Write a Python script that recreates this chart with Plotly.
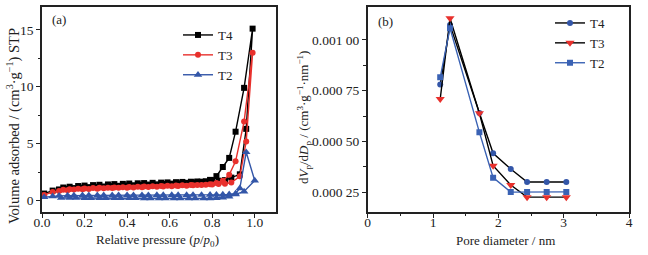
import plotly.graph_objects as go

# ---------------- data: panel (a) N2 isotherms ----------------
P_ADS = [0.01, 0.05, 0.08, 0.12, 0.15, 0.19, 0.22, 0.26, 0.29, 0.33, 0.36, 0.40, 0.43, 0.47,
         0.50, 0.54, 0.57, 0.61, 0.64, 0.68, 0.71, 0.75, 0.79, 0.82, 0.85, 0.88, 0.91, 0.95, 0.99]
P_DES = [0.96, 0.93, 0.89, 0.86, 0.83, 0.80, 0.77, 0.73, 0.70, 0.66, 0.63, 0.59, 0.56, 0.52,
         0.48, 0.45, 0.41, 0.38, 0.34, 0.31, 0.27, 0.24, 0.20, 0.17, 0.13, 0.10]

T4_ADS = [0.62, 0.88, 0.98, 1.05, 1.10, 1.14, 1.18, 1.21, 1.24, 1.27, 1.30, 1.33, 1.35, 1.38,
          1.41, 1.43, 1.46, 1.49, 1.52, 1.56, 1.60, 1.66, 1.82, 2.15, 2.95, 3.75, 6.05, 9.90, 15.10]
T4_DES = [6.30, 2.31, 2.02, 1.80, 1.75, 1.72, 1.70, 1.68, 1.66, 1.64, 1.62, 1.60, 1.58, 1.56,
          1.54, 1.52, 1.50, 1.47, 1.45, 1.42, 1.39, 1.36, 1.32, 1.28, 1.22, 1.15]

T3_ADS = [0.50, 0.75, 0.85, 0.92, 0.97, 1.00, 1.03, 1.05, 1.08, 1.10, 1.12, 1.14, 1.16, 1.18,
          1.20, 1.22, 1.24, 1.26, 1.28, 1.31, 1.34, 1.38, 1.44, 1.55, 1.75, 2.26, 3.45, 6.94, 12.98]
T3_DES = [5.20, 2.14, 1.58, 1.48, 1.45, 1.42, 1.40, 1.38, 1.36, 1.34, 1.32, 1.30, 1.28, 1.26,
          1.24, 1.22, 1.20, 1.18, 1.16, 1.14, 1.12, 1.10, 1.07, 1.04, 1.00, 0.95]

P2_ADS = [0.01, 0.05, 0.08, 0.12, 0.15, 0.19, 0.22, 0.26, 0.29, 0.33, 0.36, 0.40, 0.43, 0.47,
          0.50, 0.54, 0.57, 0.61, 0.64, 0.68, 0.71, 0.75, 0.79, 0.82, 0.85, 0.88, 0.91, 0.93, 0.96, 1.00]
T2_ADS = [0.30, 0.38, 0.42, 0.44, 0.45, 0.46, 0.46, 0.47, 0.47, 0.47, 0.48, 0.48, 0.48, 0.48,
          0.48, 0.49, 0.49, 0.49, 0.49, 0.49, 0.50, 0.50, 0.51, 0.52, 0.53, 0.55, 0.62, 1.08, 4.25, 1.76]
P2_DES = [0.95, 0.91, 0.88, 0.85, 0.82, 0.79, 0.76, 0.72, 0.69, 0.65, 0.62, 0.58, 0.55, 0.51,
          0.48, 0.44, 0.41, 0.37, 0.34, 0.30, 0.27, 0.23, 0.20, 0.16, 0.13, 0.09]
T2_DES = [0.80, 0.55, 0.36, 0.27, 0.22, 0.20, 0.19, 0.19, 0.19, 0.19, 0.19, 0.20, 0.20, 0.20,
          0.20, 0.21, 0.21, 0.21, 0.21, 0.22, 0.22, 0.22, 0.22, 0.23, 0.23, 0.23]

# ---------------- data: panel (b) pore size distribution ----------------
PORE_D = [1.11, 1.26, 1.71, 1.92, 2.19, 2.44, 2.74, 3.04]
T4_B = [0.000780, 0.001074, 0.000640, 0.000442, 0.000365, 0.000301, 0.000301, 0.000301]
T3_B = [0.000709, 0.001107, 0.000639, 0.000381, 0.000286, 0.000226, 0.000226, 0.000226]
T2_B = [0.000816, 0.001058, 0.000545, 0.000322, 0.000251, 0.000252, 0.000252, 0.000252]

B_TICKS = [0.00025, 0.00050, 0.00075, 0.00100]
B_TICKTEXT = ["0.000 25", "0.000 50", "0.000 75", "0.001 00"]

BLACK = "#000000"
RED = "#e8302c"
BLUE = "#3356a8"
BLUE2 = "#3a62b4"
FONT = "'Liberation Serif', 'Times New Roman', Times, serif"

fig = go.Figure()

def trace_a(name, xa, ya, xd, yd, color, symbol, size):
    fig.add_trace(go.Scatter(
        x=list(xa) + list(xd), y=list(ya) + list(yd), name=name, mode="lines+markers",
        line=dict(color=color, width=1.4),
        marker=dict(symbol=symbol, size=size, color=color),
        xaxis="x", yaxis="y", legend="legend"))

trace_a("T4", P_ADS, T4_ADS, P_DES, T4_DES, BLACK, "square", 6)
trace_a("T3", P_ADS, T3_ADS, P_DES, T3_DES, RED, "circle", 6)
trace_a("T2", P2_ADS, T2_ADS, P2_DES, T2_DES, BLUE, "triangle-up", 7.5)

fig.add_trace(go.Scatter(x=PORE_D, y=T4_B, name="T4", mode="lines+markers",
                         line=dict(color=BLACK, width=1.4),
                         marker=dict(symbol="circle", size=6, color=BLUE),
                         xaxis="x2", yaxis="y2", legend="legend2"))
fig.add_trace(go.Scatter(x=PORE_D, y=T3_B, name="T3", mode="lines+markers",
                         line=dict(color=BLACK, width=1.4),
                         marker=dict(symbol="triangle-down", size=8, color=RED),
                         xaxis="x2", yaxis="y2", legend="legend2"))
fig.add_trace(go.Scatter(x=PORE_D, y=T2_B, name="T2", mode="lines+markers",
                         line=dict(color=BLUE2, width=1.4),
                         marker=dict(symbol="square", size=6, color=BLUE2),
                         xaxis="x2", yaxis="y2", legend="legend2"))

W, H = 648, 255
def px(x): return x / W
def py(y): return 1 - y / H

axis_common = dict(showline=True, linecolor="#222", linewidth=1.5, mirror=True,
                   ticks="outside", ticklen=4, tickwidth=1, tickcolor="#222",
                   showgrid=False, zeroline=False, automargin=False,
                   tickfont=dict(family=FONT, size=13.5, color="#222"))

fig.update_layout(
    width=W, height=H, margin=dict(l=0, r=0, t=0, b=0, autoexpand=False),
    paper_bgcolor="white", plot_bgcolor="white",
    font=dict(family=FONT, size=13, color="#222"),
    xaxis=dict(domain=[px(42), px(276)], range=[0, 1.1], tickvals=[0, 0.2, 0.4, 0.6, 0.8, 1.0],
               ticktext=["0.0", "0.2", "0.4", "0.6", "0.8", "1.0"], ticklabelstandoff=-7,
               minor=dict(tickvals=[0.1, 0.3, 0.5, 0.7, 0.9], ticks="outside", ticklen=2.5, tickcolor="#222"),
               anchor="y", **axis_common),
    yaxis=dict(domain=[py(212), py(7)], range=[-1, 17], tickvals=[0, 5, 10, 15],
               minor=dict(tickvals=[2.5, 7.5, 12.5], ticks="outside", ticklen=2.5, tickcolor="#222"),
               anchor="x", **axis_common),
    xaxis2=dict(domain=[px(367.7), px(629)], range=[0, 4], tickvals=[0, 1, 2, 3, 4],
                ticklabelstandoff=-7,
                minor=dict(tickvals=[0.5, 1.5, 2.5, 3.5], ticks="outside", ticklen=2.5, tickcolor="#222"),
                anchor="y2", **axis_common),
    yaxis2=dict(domain=[py(212), py(7)], range=[0.000153, 0.001162], tickvals=B_TICKS,
                ticktext=B_TICKTEXT,
                minor=dict(tickvals=[0.000375, 0.000625, 0.000875], ticks="outside", ticklen=2.5, tickcolor="#222"),
                anchor="x2", **axis_common),
    legend=dict(x=px(178), y=py(20), xanchor="left", yanchor="top",
                bgcolor="rgba(0,0,0,0)", font=dict(family=FONT, size=13, color="#222"),
                tracegroupgap=0, itemwidth=30),
    legend2=dict(x=px(550), y=py(8), xanchor="left", yanchor="top",
                 bgcolor="rgba(0,0,0,0)", font=dict(family=FONT, size=13, color="#222"),
                 tracegroupgap=0, itemwidth=30),
    showlegend=True,
)

ann = [
    dict(text="(a)", x=px(50), y=py(20), xanchor="left", yanchor="middle", font=dict(size=13)),
    dict(text="(b)", x=px(376), y=py(21), xanchor="left", yanchor="middle", font=dict(size=13)),
    dict(text="Volume adsorbed / (cm<sup>3</sup>·g<sup>−1</sup>) STP", x=px(13), y=py(126),
         textangle=-90, xanchor="center", yanchor="middle", font=dict(size=14.5)),
    dict(text="Relative pressure (<i>p</i>/<i>p</i><sub>0</sub>)", x=px(157), y=py(240),
         xanchor="center", yanchor="middle", font=dict(size=13)),
    dict(text="d<i>V</i><sub>p</sub>/d<i>D</i><sub>p</sub> / (cm<sup>3</sup>·g<sup>−1</sup>·nm<sup>−1</sup>)",
         x=px(304), y=py(118), textangle=-90, xanchor="center", yanchor="middle", font=dict(size=13)),
    dict(text="Pore diameter / nm", x=px(505), y=py(240), xanchor="center", yanchor="middle",
         font=dict(size=13)),
]
for a in ann:
    a.update(xref="paper", yref="paper", showarrow=False)
fig.update_layout(annotations=ann)

fig.write_html("out.html", config={"displayModeBar": False},
               post_script="document.body.style.margin='0';document.body.style.overflow='hidden';")
